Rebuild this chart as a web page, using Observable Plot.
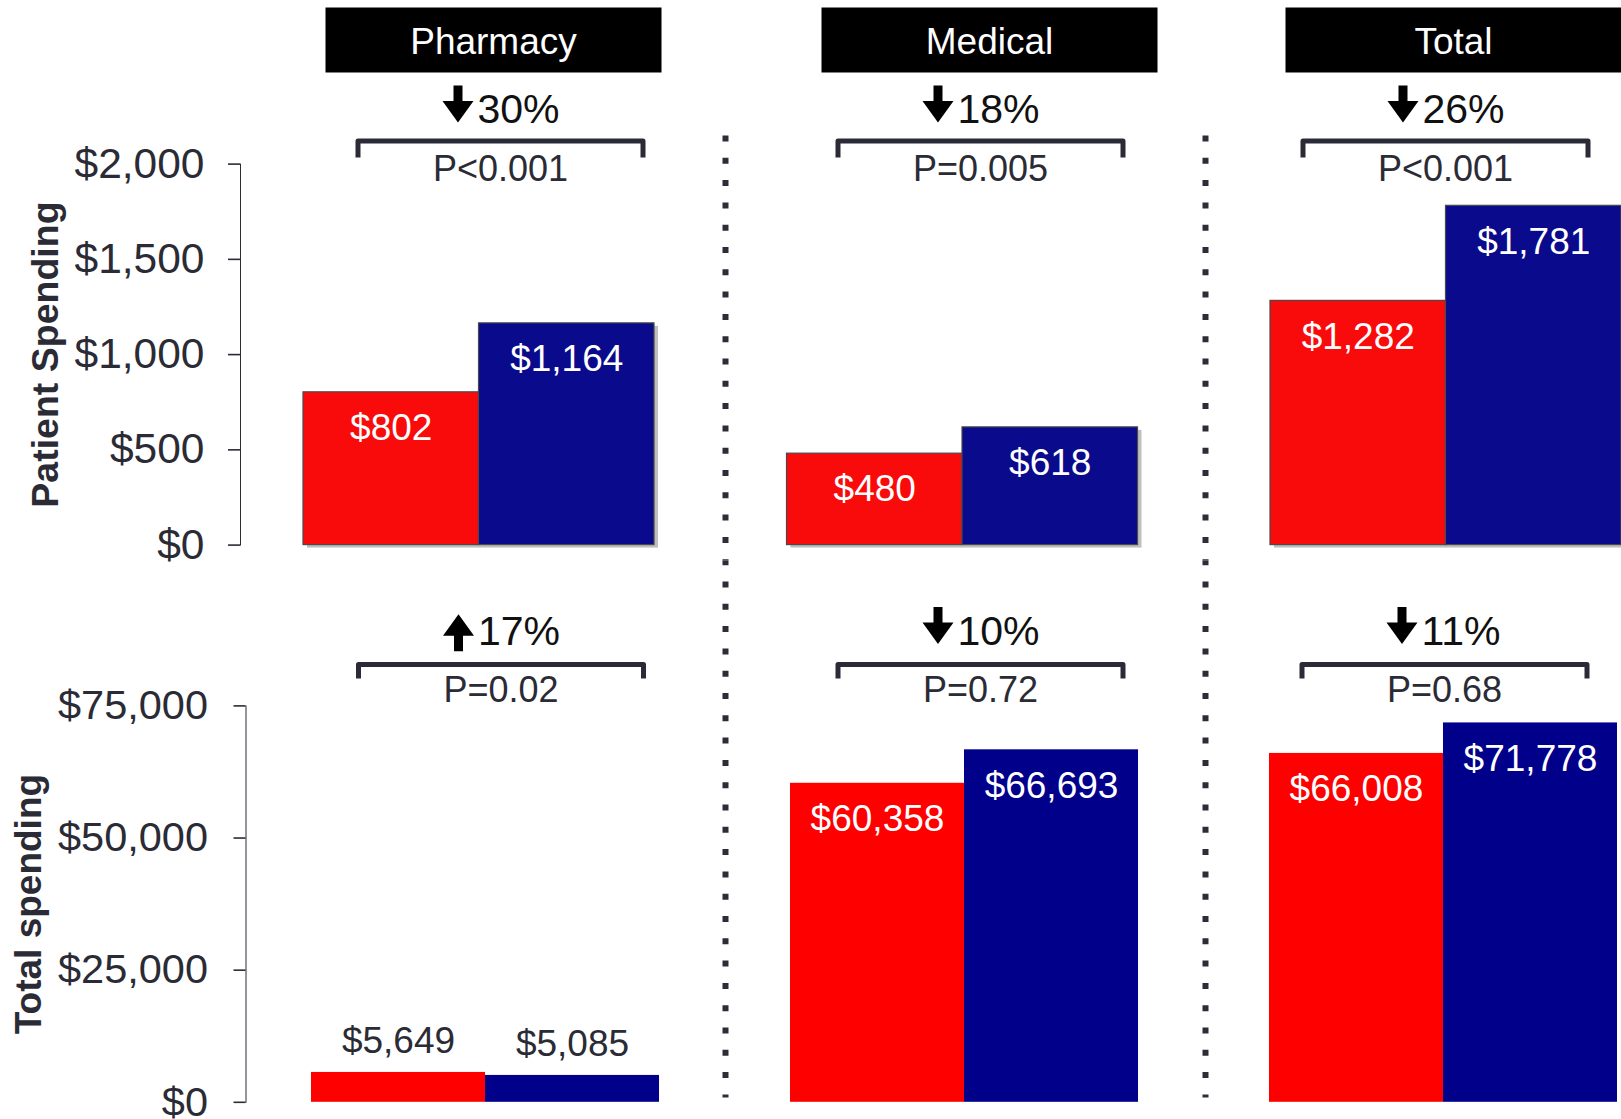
<!DOCTYPE html>
<html>
<head>
<meta charset="utf-8">
<script src="https://cdn.jsdelivr.net/npm/d3@7"></script>
<script src="https://cdn.jsdelivr.net/npm/@observablehq/plot@0.6"></script>
<style>
html, body { margin: 0; padding: 0; background: #fff; }
#chart { position: relative; width: 1621px; height: 1119px; overflow: hidden; background: #fff; }
#chart svg { display: block; overflow: visible; }
#chart [aria-label="y-axis tick"] { stroke: #8c8c8c; stroke-width: 1.6px; }
#chart [aria-label="y-axis tick label"] { fill: #2b2b36; }
#chart .row-top [aria-label="y-axis tick label"] { font-size: 42.5px; }
#chart .row-bottom [aria-label="y-axis tick label"] { font-size: 41.5px; }
</style>
</head>
<body>
<div id="chart"></div>
<script>
// ---------------- data ----------------
const categories = ["Pharmacy", "Medical", "Total"];
const seriesNames = ["Group 1", "Group 2"]; // red, blue

const patientRed  = [802, 480, 1282];
const patientBlue = [1164, 618, 1781];
const patientChangeDir = ["down", "down", "down"];
const patientChangePct = [30, 18, 26];
const patientP = ["P<0.001", "P=0.005", "P<0.001"];
const patientTicks = [0, 500, 1000, 1500, 2000];

const totalRed  = [5649, 60358, 66008];
const totalBlue = [5085, 66693, 71778];
const totalChangeDir = ["up", "down", "down"];
const totalChangePct = [17, 10, 11];
const totalP = ["P=0.02", "P=0.72", "P=0.68"];
const totalTicks = [0, 25000, 50000, 75000];

// ---------------- layout / style ----------------
const W = 1621;
const FONT = "'Liberation Sans', Arial, Helvetica, sans-serif";
const DARK = "#2b2b36";
const fmt = d3.format("$,.0f");

const rectSymbol = (w, h) => ({draw(ctx) {
  ctx.moveTo(-w / 2, -h / 2); ctx.lineTo(w / 2, -h / 2); ctx.lineTo(w / 2, h / 2); ctx.lineTo(-w / 2, h / 2); ctx.closePath();
}});
const bracketSymbol = (half, leg) => ({draw(ctx) {
  ctx.moveTo(-half, leg); ctx.lineTo(-half, 0); ctx.lineTo(half, 0); ctx.lineTo(half, leg);
}});
const vlineSymbol = (len) => ({draw(ctx) { ctx.moveTo(0, 0); ctx.lineTo(0, len); }});
const arrowSymbol = (dir) => ({draw(ctx) {
  const s = dir === "down" ? 1 : -1;
  const pts = [[-4.5, -18.5], [4.5, -18.5], [4.5, -3], [15.5, -3], [0, 18.5], [-15.5, -3], [-4.5, -3]];
  pts.forEach(([x, y], i) => i ? ctx.lineTo(x, s * y) : ctx.moveTo(x, s * y));
  ctx.closePath();
}});

const rows = [
  {
    className: "row-top",
    height: 560, marginTop: 163.6, marginBottom: 15.4, marginLeft: 240, marginRight: 0,
    fxPad: 0.1437, xPadOuter: 0.1795,
    red: patientRed, blue: patientBlue, dir: patientChangeDir, pct: patientChangePct, p: patientP,
    domain: [0, 2000], ticks: patientTicks, tickPadding: 24,
    colors: ["#fa0b0b", "#0a0a8c"], shadow: true,
    label: "Patient Spending", labelX: 45.2, labelSize: 37.5,
    annotX: [500, 980, 1445],
    pctBaseline: 122, arrowY: {down: 103.5, up: 111},
    bracketY: 140.5, bracketLeg: 16.5, pBaseline: 180,
    sepY: 135, sepLen: 425, sepOffset: 0,
    headers: true, headerX: [493, 989, 1453], headerY: 39.5, headerBaseline: 53.6
  },
  {
    className: "row-bottom",
    height: 559, marginTop: 145.4, marginBottom: 17.2, marginLeft: 245.5, marginRight: 4,
    fxPad: 0.1367, xPadOuter: 0.1882,
    red: totalRed, blue: totalBlue, dir: totalChangeDir, pct: totalChangePct, p: totalP,
    domain: [0, 75000], ticks: totalTicks, tickPadding: 26,
    colors: ["#ff0000", "#00008b"], shadow: false,
    label: "Total spending", labelX: 28.5, labelSize: 37,
    annotX: [500.5, 980, 1444],
    pctBaseline: 84, arrowY: {down: 64.9, up: 72.3},
    bracketY: 104, bracketLeg: 14, pBaseline: 141,
    sepY: 0, sepLen: 537, sepOffset: 1.3,
    headers: false
  }
];
const separatorX = {Medical: 725, Total: 1205};

function rowPlot(cfg) {
  const fxBand = d3.scaleBand(categories, [cfg.marginLeft, W - cfg.marginRight]).paddingInner(cfg.fxPad).paddingOuter(0);
  const center = c => fxBand(c) + fxBand.bandwidth() / 2;
  const top = cfg.marginTop;

  const bars = categories.flatMap((c, i) => [
    {cat: c, series: seriesNames[0], value: cfg.red[i]},
    {cat: c, series: seriesNames[1], value: cfg.blue[i]}
  ]);
  const annot = categories.map((c, i) => ({cat: c, dir: cfg.dir[i], pct: cfg.pct[i], p: cfg.p[i]}));
  const ymax = cfg.domain[1];
  const inside = d => d.value / ymax >= 0.2;

  const marks = [];

  // dotted separators between panels
  for (const c of ["Medical", "Total"]) {
    marks.push(Plot.dot([{cat: c}], {
      fx: "cat", frameAnchor: "top", symbol: vlineSymbol(cfg.sepLen),
      dx: separatorX[c] - center(c), dy: cfg.sepY - top,
      fill: "none", stroke: "#2d2d3a", strokeWidth: 6,
      strokeDasharray: "6,16.3", strokeDashoffset: cfg.sepOffset, strokeLinecap: "butt"
    }));
  }

  if (cfg.shadow) {
    marks.push(Plot.barY(bars, {fx: "cat", x: "series", y: "value", fill: "#8a8a8a", fillOpacity: 0.55, dx: 4, dy: 3}));
  }
  marks.push(Plot.barY(bars, {
    fx: "cat", x: "series", y: "value", fill: "series",
    stroke: cfg.shadow ? "#4a4a4a" : null, strokeWidth: 1.2
  }));

  marks.push(Plot.text(bars.filter(inside), {
    fx: "cat", x: "series", y: "value", text: d => fmt(d.value),
    fill: "white", fontSize: 37, lineAnchor: "top", dy: 21.5
  }));
  marks.push(Plot.text(bars.filter(d => !inside(d)), {
    fx: "cat", x: "series", y: "value", text: d => fmt(d.value),
    fill: DARK, fontSize: 37, lineAnchor: "bottom", dy: -19
  }));

  // annotations per panel
  categories.forEach((c, i) => {
    const d = annot.filter(a => a.cat === c);
    const ax = cfg.annotX[i] - center(c);
    marks.push(Plot.dot(d, {
      fx: "cat", frameAnchor: "top", symbol: arrowSymbol(d[0].dir),
      dx: ax - 42.5, dy: cfg.arrowY[d[0].dir] - top, fill: "#000", stroke: null
    }));
    marks.push(Plot.text(d, {
      fx: "cat", frameAnchor: "top", text: a => `${a.pct}%`,
      textAnchor: "start", lineAnchor: "bottom", dx: ax - 23, dy: cfg.pctBaseline - top,
      fontSize: 41, fill: "#111"
    }));
    marks.push(Plot.dot(d, {
      fx: "cat", frameAnchor: "top", symbol: bracketSymbol(142.5, cfg.bracketLeg),
      dx: ax, dy: cfg.bracketY - top, fill: "none", stroke: "#2b2b38", strokeWidth: 5,
      strokeLinejoin: "round", strokeLinecap: "butt"
    }));
    marks.push(Plot.text(d, {
      fx: "cat", frameAnchor: "top", text: "p",
      textAnchor: "middle", lineAnchor: "bottom", dx: ax, dy: cfg.pBaseline - top,
      fontSize: 36, fill: DARK
    }));
    if (cfg.headers) {
      const hx = cfg.headerX[i] - center(c);
      marks.push(Plot.dot([{cat: c}], {
        fx: "cat", frameAnchor: "top", symbol: rectSymbol(336, 65),
        dx: hx, dy: cfg.headerY - top, fill: "#000", stroke: null
      }));
      marks.push(Plot.text([{cat: c}], {
        fx: "cat", frameAnchor: "top", text: "cat",
        textAnchor: "middle", lineAnchor: "bottom", dx: hx, dy: cfg.headerBaseline - top,
        fontSize: 37, fill: "#fff"
      }));
    }
  });

  // y-axis title
  marks.push(Plot.text([{cat: categories[0]}], {
    fx: "cat", frameAnchor: "left", text: () => cfg.label, rotate: -90,
    textAnchor: "middle", lineAnchor: "middle",
    dx: cfg.labelX - fxBand(categories[0]), fontSize: cfg.labelSize, fontWeight: "bold", fill: DARK
  }));

  return Plot.plot({
    className: cfg.className,
    width: W, height: cfg.height,
    marginTop: cfg.marginTop, marginBottom: cfg.marginBottom,
    marginLeft: cfg.marginLeft, marginRight: cfg.marginRight,
    style: {fontFamily: FONT, fontSize: "37px", color: DARK, background: "transparent", overflow: "visible"},
    fx: {domain: categories, paddingInner: cfg.fxPad, paddingOuter: 0, round: false, axis: null, label: null},
    x: {domain: seriesNames, paddingInner: 0, paddingOuter: cfg.xPadOuter, align: 1, round: false, axis: null, label: null},
    y: {domain: cfg.domain, ticks: cfg.ticks, tickFormat: fmt, tickSize: 12, tickPadding: cfg.tickPadding, line: true, label: null},
    color: {domain: seriesNames, range: cfg.colors},
    marks
  });
}

const host = document.getElementById("chart");
for (const cfg of rows) host.appendChild(rowPlot(cfg));
</script>
</body>
</html>
